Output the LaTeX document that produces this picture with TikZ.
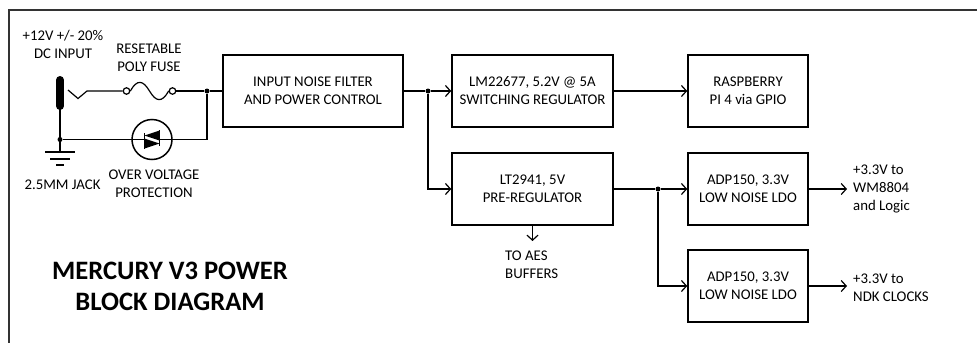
\documentclass[tikz,border=0pt]{standalone}
\usepackage{fontspec}
\setmainfont{Carlito}
\usetikzlibrary{arrows.meta}
\begin{document}
\begin{tikzpicture}[x=1pt,y=-1pt,
  txt/.style={align=center, inner sep=0pt, font=\fontsize{14.8}{18}\selectfont},
  blk/.style={txt, draw, line width=1.5pt, minimum width=120pt, minimum height=72pt},
  wire/.style={line width=1.2pt},
  arr/.style={wire, -{Straight Barb[length=5pt,width=11pt,line width=1.2pt]}},
  jdot/.style={circle, fill, inner sep=0pt, minimum size=5pt},
  gnd/.style={line width=2pt},
]
\useasboundingbox (0,0) rectangle (977,343);
% frame
\draw[line width=2pt, black!80] (977,10) -- (9,10) -- (9,343);

% blocks
\node[blk, minimum width=180pt] (filt) at (313,91) {INPUT NOISE FILTER\\AND POWER CONTROL};
\node[blk, minimum width=161pt] (lm) at (532.5,91) {LM22677, 5.2V @ 5A\\SWITCHING REGULATOR};
\node[blk, minimum width=161pt] (lt) at (532.5,189) {LT2941, 5V\\PRE-REGULATOR};
\node[blk] (rpi) at (748,91) {RASPBERRY\\PI 4 via GPIO};
\node[blk] (adpa) at (748,189) {ADP150, 3.3V\\LOW NOISE LDO};
\node[blk] (adpb) at (748,286) {ADP150, 3.3V\\LOW NOISE LDO};

% connectors
\node[jdot] (j1) at (428,91) {};
\node[jdot] (j2) at (658,189) {};
\coordinate (o1) at (847,189);
\coordinate (o2) at (847,286);
\coordinate (o3) at (532.5,241);
\draw[wire] (filt.east) -- (j1);
\draw[arr] (j1) -- (lm.west);
\draw[arr] (j1) |- (lt.west);
\draw[arr] (lm.east) -- (rpi.west);
\draw[wire] (lt.east) -- (j2);
\draw[arr] (j2) -- (adpa.west);
\draw[arr] (j2) |- (adpb.west);
\draw[arr] (adpa.east) -- (o1);
\draw[arr] (adpb.east) -- (o2);
\draw[arr] (lt.south) -- (o3);

% output labels
\node[txt, align=left, anchor=west] (l1) at (853,189) {+3.3V to\\WM8804\\and Logic};
\node[txt, align=left, anchor=west] (l2) at (853,288) {+3.3V to\\NDK CLOCKS};
\node[txt, align=left, anchor=west] (l3) at (505,265) {TO AES\\BUFFERS};

% left schematic
\node[txt] (tin) at (63,44) {+12V +/- 20\%\\DC INPUT};
\node[txt] (tfuse) at (149,57.5) {RESETABLE\\POLY FUSE};
\node[txt] (tjack) at (62.5,185) {2.5MM JACK};
\node[txt] (tovp) at (154,183.5) {OVER VOLTAGE\\PROTECTION};

% jack
\draw[line width=8pt, line cap=round] (60,80) -- (60,106);
\draw[line width=2.5pt] (60,106) -- (60,152);
\draw[gnd] (45,152) -- (75,152);
\draw[gnd] (50,158.5) -- (70,158.5);
\draw[gnd] (56,165) -- (64,165);
\node[jdot] (jj) at (60,139.5) {};

% fuse
\node[circle, draw, line width=1.2pt, minimum size=6.5pt, inner sep=0pt] (fl) at (126.5,91) {};
\node[circle, draw, line width=1.2pt, minimum size=6.5pt, inner sep=0pt] (fr) at (172.5,91) {};
\coordinate (sp) at (68,90);
\draw[wire] (sp) -- (78,98.5) -- (87,91) -- (fl.west);
\draw[wire] (fl.east) .. controls (137,79) and (143,80) .. (149.5,91) .. controls (156,102) and (162,103) .. (fr.west);
\node[jdot] (jr) at (207,91) {};
\draw[wire] (fr.east) -- (jr);
\draw[wire] (jr) -- (filt.west);

% over-voltage diode
\node[circle, draw, line width=1.5pt, minimum size=40pt, inner sep=0pt] (dio) at (152,139.5) {};
\draw[wire] (jr) |- (dio.east);
\draw[wire] (dio.west) -- (jj);
\draw[wire] (dio.west) -- (144.5,139.5);
\draw[wire] (159.5,139.5) -- (dio.east);
\fill (159.5,130.5) -- (159.5,140.5) -- (144.5,135.5) -- cycle;
\fill (144.5,138.5) -- (144.5,148.5) -- (159.5,143.5) -- cycle;
\draw[line width=1.3pt] (144.5,133) -- (144.5,149);
\draw[line width=1.3pt] (159.5,130) -- (159.5,146);

% title
\node[align=center, inner sep=0pt, font=\fontsize{26.6}{31}\selectfont\bfseries] (title) at (170,286) {MERCURY V3 POWER\\BLOCK DIAGRAM};
\end{tikzpicture}
\end{document}
